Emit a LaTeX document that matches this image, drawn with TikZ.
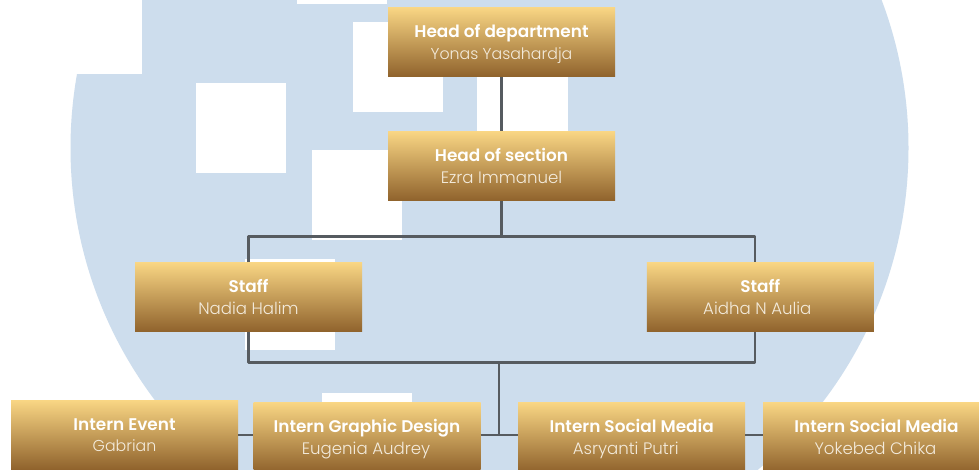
\documentclass[tikz,border=0pt]{standalone}
\usepackage{fontspec}
\setmainfont{Poppins}
\newfontfamily\titlefont{Poppins}[UprightFont=* SemiBold,BoldFont=* Bold]
\newfontfamily\namefont{Poppins}[UprightFont=* Light]
\definecolor{circleblue}{HTML}{CDDDED}
\definecolor{goldtop}{HTML}{F9D684}
\definecolor{goldbottom}{HTML}{8F622C}
\definecolor{linegrey}{HTML}{565B60}
\definecolor{nametext}{HTML}{F3EBDC}
\newcommand{\personlabel}[3]{\rule{0pt}{17.4pt}{\titlefont\fontsize{16.9}{21.5}\selectfont\color{white}#1}\\\hspace*{#3}{\namefont\fontsize{16.6}{21.5}\selectfont\color{nametext}#2}\rule[-5pt]{0pt}{5pt}}
\newcommand{\narrowname}[1]{\fontsize{15.8}{21.5}\selectfont #1}
\tikzset{
  orgbox/.style={rectangle,inner sep=0pt,minimum width=227pt,minimum height=69.5pt,
    top color=goldtop,bottom color=goldbottom,align=center,
    font=\fontsize{16.6}{21.5}\selectfont},
  patch/.style={fill=white,draw=none},
  link/.style={draw=linegrey,line width=2.2pt,line join=round}
}
\begin{document}
\begin{tikzpicture}[x=1pt,y=-1pt]
\useasboundingbox (0,0) rectangle (979,470);
\clip (0,0) rectangle (979,470);
\fill[white] (0,0) rectangle (979,470);
\fill[circleblue] (489.5,148) circle[radius=419];
\fill[patch] (0,0) rectangle (142,74);
\fill[patch] (297,0) rectangle (387,4);
\fill[patch] (353,22) rectangle (443,112);
\fill[patch] (196,83) rectangle (286,173);
\fill[patch] (477,41) rectangle (568,131);
\fill[patch] (312,150) rectangle (402,240);
\fill[patch] (245,259.5) rectangle (335,350);
\fill[patch] (322,393) rectangle (412,470);

\node[orgbox] (head) at (501.5,42.2) {\personlabel{Head of department}{\narrowname{Yonas Yasahardja}}{0pt}};
\node[orgbox] (section) at (501.5,166.2) {\personlabel{Head of section}{Ezra Immanuel}{0pt}};
\node[orgbox] (staffL) at (248.5,297.2) {\personlabel{Staff}{Nadia Halim}{0pt}};
\node[orgbox] (staffR) at (760.3,297.2) {\personlabel{Staff}{Aidha N Aulia}{-6pt}};
\node[orgbox] (event) at (124.5,435) {\personlabel{Intern Event}{\narrowname{Gabrian}}{0pt}};
\node[orgbox] (graphic) at (367,437.2) {\personlabel{Intern Graphic Design}{Eugenia Audrey}{-2pt}};
\node[orgbox] (socialA) at (631.7,437.2) {\personlabel{Intern Social Media}{Asryanti Putri}{-12pt}};
\node[orgbox] (socialB) at (876.5,437.2) {\personlabel{Intern Social Media}{Yokebed Chika}{-2pt}};

\coordinate (busTop) at (501.5,236.5);
\coordinate (busTopL) at (248.5,236.5);
\coordinate (busTopR) at (755,236.5);
\coordinate (busMidL) at (248.5,362.5);
\coordinate (busMidR) at (755,362.5);
\coordinate (drop) at (499,362.5);
\coordinate (dropEnd) at (499,435);

\draw[link] (head.south) -- (section.north);
\draw[link] (section.south) -- (busTop);
\draw[link] (staffL.north -| busTopL) -- (busTopL) -- (busTopR) -- (busTopR |- staffR.north);
\draw[link] (staffL.south -| busMidL) -- (busMidL) -- (busMidR) -- (busMidR |- staffR.south);
\draw[link] (drop) -- (dropEnd);
\draw[link] (event.east |- dropEnd) -- (graphic.west |- dropEnd);
\draw[link] (graphic.east |- dropEnd) -- (socialA.west |- dropEnd);
\draw[link] (socialA.east |- dropEnd) -- (socialB.west |- dropEnd);
\end{tikzpicture}
\end{document}
